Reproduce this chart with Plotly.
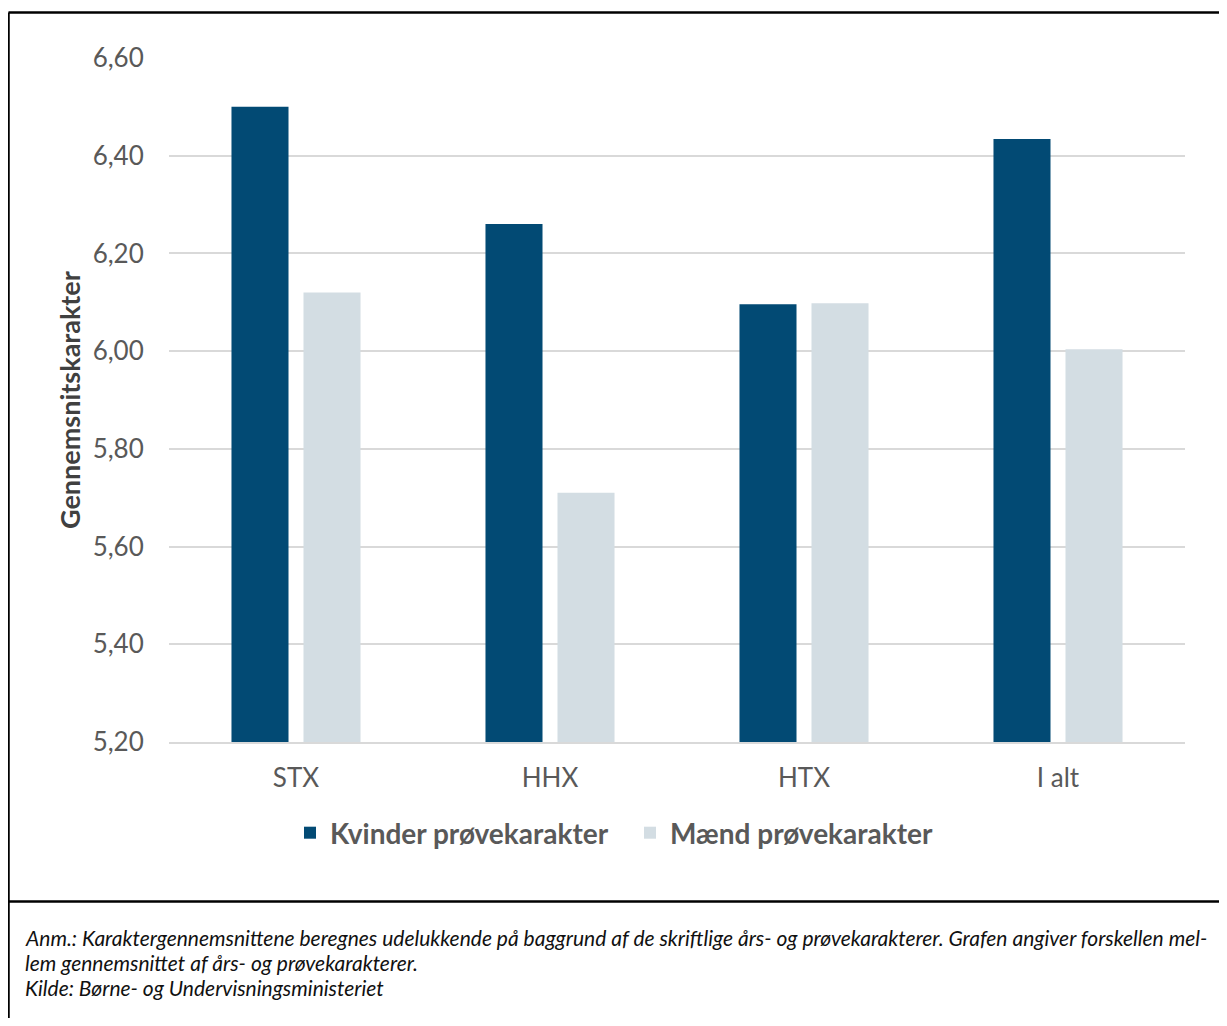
import plotly.graph_objects as go

categories = ["STX", "HHX", "HTX", "I alt"]
kvinder = [6.50, 6.26, 6.096, 6.434]
maend = [6.12, 5.71, 6.098, 6.004]
y_ticks = [5.2, 5.4, 5.6, 5.8, 6.0, 6.2, 6.4, 6.6]
y_tick_labels = ["5,20", "5,40", "5,60", "5,80", "6,00", "6,20", "6,40", "6,60"]
series_names = ["Kvinder prøvekarakter", "Mænd prøvekarakter"]
y_title = "Gennemsnitskarakter"
footnote_lines = [
    "Anm.: Karaktergennemsnittene beregnes udelukkende på baggrund af de skriftlige års- og prøvekarakterer. "
    "Grafen angiver forskellen mel-",
    "lem gennemsnittet af års- og prøvekarakterer.",
    "Kilde: Børne- og Undervisningsministeriet",
]

DARK = "#024a74"
LIGHT = "#d3dde3"
TEXT = "#595959"

OFF = 8  # page body margin
W, H = 1227 - 2 * OFF, 1026 - 2 * OFF
# plot area in page pixels
PL, PR, PT, PB = 169, 1185, 58, 742
L, R, T, B = PL - OFF, PR - OFF, PT - OFF, PB - OFF

fig = go.Figure()
fig.add_trace(go.Bar(x=categories, y=kvinder, name=series_names[0],
                     marker=dict(color=DARK, line=dict(width=0))))
fig.add_trace(go.Bar(x=categories, y=maend, name=series_names[1],
                     marker=dict(color=LIGHT, line=dict(width=0))))


def px_to_paper_x(x):
    """page pixel -> paper coordinate"""
    return (x - PL) / (PR - PL)


def px_to_paper_y(y):
    return (PB - y) / (PB - PT)


shapes = []
line = dict(color="black", width=2.5)
xl, xr = px_to_paper_x(8.5), px_to_paper_x(1240)
yt, yd, yb = px_to_paper_y(12.5), px_to_paper_y(901.5), px_to_paper_y(1040)
shapes.append(dict(type="line", xref="paper", yref="paper", x0=xl, x1=xr, y0=yt, y1=yt, line=line))
shapes.append(dict(type="line", xref="paper", yref="paper", x0=xl, x1=xl, y0=yt, y1=yb, line=line))
shapes.append(dict(type="line", xref="paper", yref="paper", x0=xl, x1=xr, y0=yd, y1=yd, line=line))

annotations = [
    dict(text="<b>" + y_title + "</b>", xref="paper", yref="paper",
         x=px_to_paper_x(69), y=0.5, textangle=-90, showarrow=False,
         xanchor="center", yanchor="middle",
         font=dict(family="Lato, sans-serif", size=27, color="#404040")),
]
for i, txt in enumerate(footnote_lines):
    annotations.append(dict(text="<i>" + txt + "</i>", xref="paper", yref="paper",
                            x=px_to_paper_x(23), y=px_to_paper_y(937 + 25 * i), showarrow=False,
                            xanchor="left", yanchor="middle", align="left",
                            font=dict(family="Lato, sans-serif", size=21, color="#111111")))

fig.update_layout(
    width=W, height=H,
    margin=dict(l=L, r=W - R, t=T, b=H - B, autoexpand=False),
    paper_bgcolor="white", plot_bgcolor="white",
    font=dict(family="Lato, sans-serif", color=TEXT),
    barmode="group", bargap=0.433, bargroupgap=0.208,
    showlegend=True,
    legend=dict(orientation="h", xref="container", yref="container",
                x=(290 - OFF) / W, y=1 - (833 - OFF) / H, xanchor="left", yanchor="middle",
                font=dict(family="Lato, sans-serif", size=28, color=TEXT, weight="bold"),
                entrywidth=295, entrywidthmode="pixels",
                traceorder="normal"),
    shapes=shapes,
    annotations=annotations,
)
fig.update_xaxes(showline=True, linecolor="#d9d9d9", linewidth=2,
                 ticks="outside", ticklen=12, tickcolor="rgba(0,0,0,0)",
                 tickfont=dict(size=26, color=TEXT), showgrid=False)
fig.update_yaxes(range=[5.2, 6.6], tickvals=y_ticks, ticktext=y_tick_labels,
                 showgrid=True, gridcolor="#d9d9d9", gridwidth=2, zeroline=False,
                 ticks="outside", ticklen=19, tickcolor="rgba(0,0,0,0)",
                 tickfont=dict(size=26, color=TEXT))

fig.write_html("out.html")
